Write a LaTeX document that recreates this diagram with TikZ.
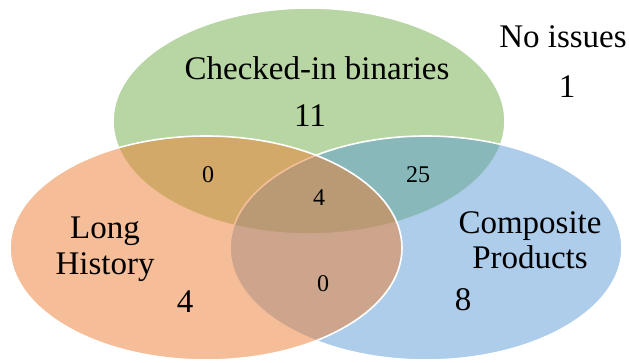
\documentclass[tikz,border=0pt]{standalone}
\usepackage{fontspec}
\setmainfont{Liberation Serif}
\definecolor{greenset}{HTML}{70AD47}
\definecolor{blueset}{HTML}{5B9BD5}
\definecolor{orangeset}{HTML}{ED7D31}

\begin{document}
\begin{tikzpicture}[x=1pt, y=-1pt,
	vset/.style = {draw=white, line width=1.6pt, fill opacity=0.5},
	big/.style = {font=\fontsize{33}{36}\selectfont, anchor=base, align=center, inner sep=0pt},
	small/.style = {font=\fontsize{24}{26}\selectfont, anchor=base, inner sep=0pt}]
		\useasboundingbox (0,0) rectangle (629,362);
		% the three sets
		\draw [vset, fill=greenset](309,121) ellipse [x radius=196, y radius=113];
		\draw [vset, fill=blueset](426,248) ellipse [x radius=196, y radius=112];
		\draw [vset, fill=orangeset](206,248) ellipse [x radius=196, y radius=112];
		% labels
		\node [big] (binaries) at (317,79) {Checked-in binaries};
		\node [big] (nbinaries) at (310,126) {11};
		\node [big] (noissues) at (563,47) {No issues};
		\node [big] (nnoissues) at (567,97) {1};
		\node [big] (history) at (105,274) {Long\\[0pt]History};
		\node [big] (nhistory) at (185,312) {4};
		\node [big] (composite) at (530,268) {Composite\\[-1pt]Products};
		\node [big] (ncomposite) at (463,310) {8};
		% overlaps
		\node [small] (nbinhist) at (208,182) {0};
		\node [small] (nbincomp) at (418,182) {25};
		\node [small] (nall) at (319,205) {4};
		\node [small] (nhistcomp) at (323,291) {0};
	\end{tikzpicture}
\end{document}
